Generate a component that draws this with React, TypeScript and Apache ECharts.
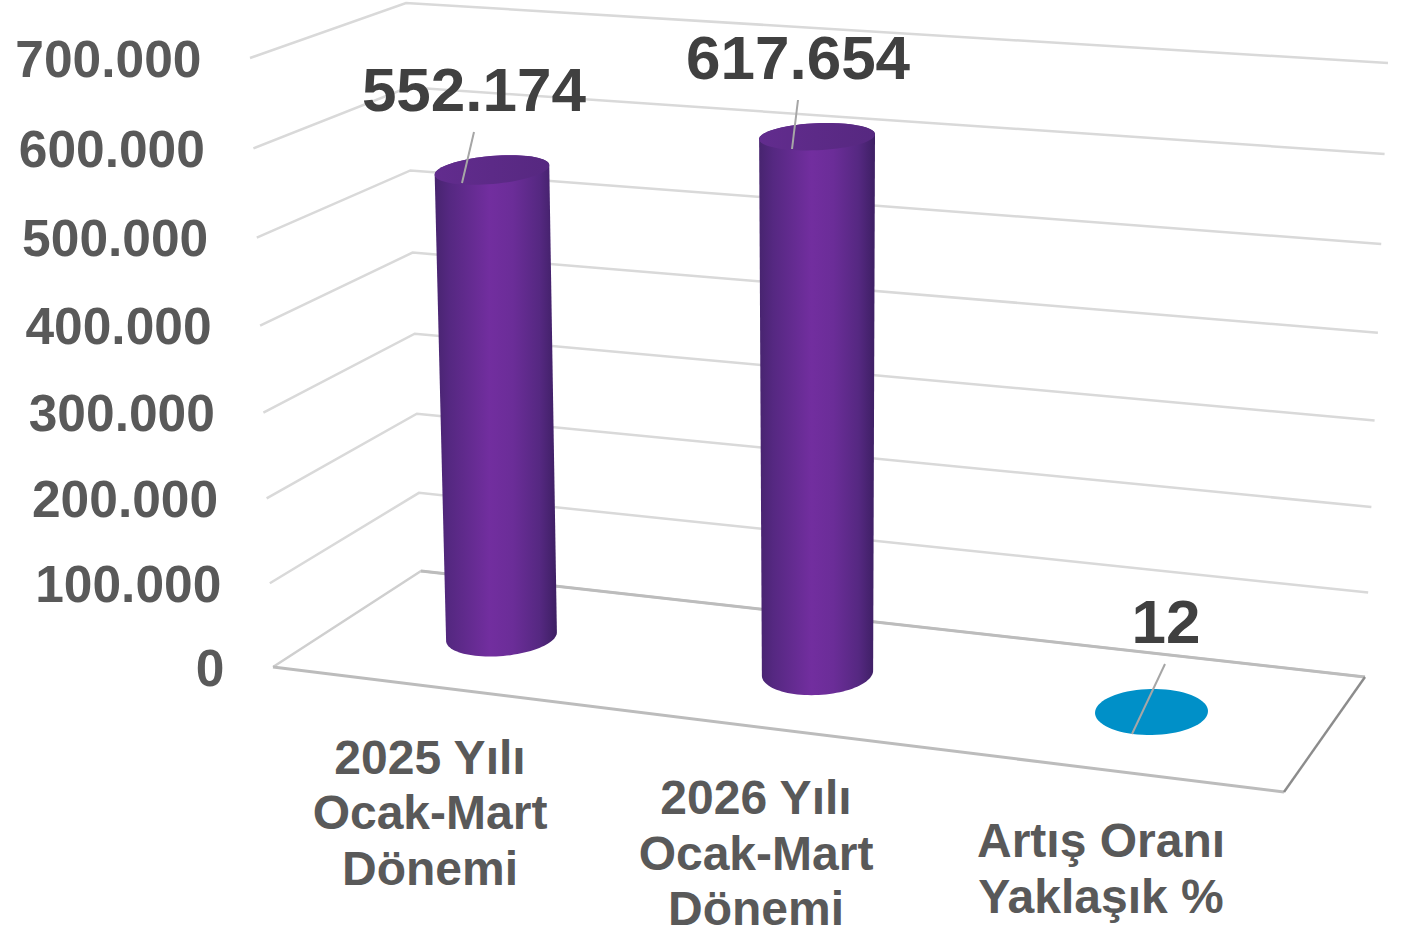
import React, { useEffect, useRef } from "react";
import * as echarts from "echarts";

// ---- chart data ----
const categories = ["2025 Yılı\nOcak-Mart\nDönemi", "2026 Yılı\nOcak-Mart\nDönemi", "Artış Oranı\nYaklaşık %"];
const values = [552174, 617654, 12];
const valueLabels = ["552.174", "617.654", "12"];
const tickValues = [0, 100000, 200000, 300000, 400000, 500000, 600000, 700000];
const tickLabels = ["0", "100.000", "200.000", "300.000", "400.000", "500.000", "600.000", "700.000"];
const AXIS_MAX = 700000;

// ---- layout of the 3D box (screen pixels) ----
type P = [number, number];
const FLOOR_FL: P = [273, 667];
const FLOOR_BL: P = [421, 571];
const FLOOR_BR: P = [1365, 677];
const FLOOR_FR: P = [1284, 792];
const TOP_FL: P = [250, 58];
const TOP_BL: P = [406, 3];
const TOP_BR: P = [1388, 63];
const PERSPECTIVE = 0.045;

const lerp = (a: P, b: P, s: number): P => [a[0] + (b[0] - a[0]) * s, a[1] + (b[1] - a[1]) * s];
const rise = (h: number) => h / (1 + PERSPECTIVE * (1 - h));

// bar ellipses: centre of base, rise over the full axis, radii and tilt at base / axis top
const barBase: P[] = [[501.5, 636.5], [817.5, 673], [1151.5, 712]];
const barFullRise: P[] = [[-12.2, -597], [-0.5, -611], [13, -635]];
const barBaseShape = [[55.6, 19.5, -5], [55.7, 22, -3], [56.5, 23, -1]];
const barTopShape = [[57.5, 14, -5], [58, 13.5, -2.5], [57, 13, -1]];
const barTopAtH = [0.7814, 0.8777, 1];
const barColors = ["#7030A0", "#7030A0", "#0090C8"];
const labelOffset: P[] = [[-18, -81], [-19, -79], [14.5, -90]];
const leaderFrom: P[] = [[474, 132], [798, 100], [1165, 664]];
const leaderTo: P[] = [[462, 183], [792, 149], [1132, 734]];
const categoryAnchor: P[] = [[430, 812.5], [756, 853], [1101, 868.5]];

const FONT = '"Liberation Sans", Arial, sans-serif';
const GRID_COLOR = "#d9d9d9";

function ellipse(c: P, rx: number, ry: number, tiltDeg: number, from: number, to: number, n: number): P[] {
  const t = (tiltDeg * Math.PI) / 180;
  const pts: P[] = [];
  for (let i = 0; i <= n; i++) {
    const a = from + ((to - from) * i) / n;
    const ex = rx * Math.cos(a);
    const ey = ry * Math.sin(a);
    pts.push([c[0] + ex * Math.cos(t) - ey * Math.sin(t), c[1] + ex * Math.sin(t) + ey * Math.cos(t)]);
  }
  return pts;
}

function heightOf(api: any, v: number) {
  const y0 = api.coord([0, 0])[1];
  const y1 = api.coord([0, AXIS_MAX])[1];
  const yv = api.coord([0, v])[1];
  return (y0 - yv) / (y0 - y1);
}

function renderGrid(params: any, api: any) {
  const i = params.dataIndex;
  const s = rise(heightOf(api, api.value(1)));
  const fl = lerp(FLOOR_FL, TOP_FL, s);
  const bl = lerp(FLOOR_BL, TOP_BL, s);
  const br = lerp(FLOOR_BR, TOP_BR, s);
  const children: any[] = [
    {
      type: "polyline",
      shape: { points: [fl, bl, br] },
      style: { fill: "none", stroke: i === 0 ? "#cfcfcf" : GRID_COLOR, lineWidth: 2.5 },
    },
    {
      type: "text",
      style: {
        text: tickLabels[i],
        x: fl[0] - 48.5,
        y: fl[1] + 0.5,
        align: "right",
        verticalAlign: "middle",
        fill: "#595959",
        font: `bold 51.5px ${FONT}`,
      },
    },
  ];
  if (i === 0) {
    children.push(
      { type: "line", shape: { x1: FLOOR_FL[0], y1: FLOOR_FL[1], x2: FLOOR_FR[0], y2: FLOOR_FR[1] }, style: { stroke: "#bcbcbc", lineWidth: 3 } },
      { type: "line", shape: { x1: FLOOR_BL[0], y1: FLOOR_BL[1], x2: FLOOR_BR[0], y2: FLOOR_BR[1] }, style: { stroke: "#bcbcbc", lineWidth: 3 } },
      { type: "line", shape: { x1: FLOOR_FR[0], y1: FLOOR_FR[1], x2: FLOOR_BR[0], y2: FLOOR_BR[1] }, style: { stroke: "#8c8c8c", lineWidth: 2.4 } }
    );
  }
  return { type: "group", children };
}

function renderBar(params: any, api: any) {
  const i = params.dataIndex;
  const s = rise(heightOf(api, api.value(1)));
  const base = barBase[i];
  const top: P = [base[0] + barFullRise[i][0] * s, base[1] + barFullRise[i][1] * s];
  const k = Math.min(1, s / barTopAtH[i]);
  const bs = barBaseShape[i];
  const ts = barTopShape[i];
  const rx = bs[0] + (ts[0] - bs[0]) * k;
  const ry = bs[1] + (ts[1] - bs[1]) * k;
  const tilt = bs[2] + (ts[2] - bs[2]) * k;
  const children: any[] = [];
  if (s > 0.01) {
    const lower = ellipse(base, bs[0], bs[1], bs[2], 0, Math.PI, 48);
    const upper = ellipse(top, rx, ry, tilt, Math.PI, 2 * Math.PI, 48);
    children.push({
      type: "polygon",
      shape: { points: [...lower, ...upper] },
      style: {
        fill: new echarts.graphic.LinearGradient(0, 0, 1, 0, [
          { offset: 0, color: "#47246f" },
          { offset: 0.12, color: "#552881" },
          { offset: 0.45, color: "#722e9f" },
          { offset: 0.64, color: "#6b2d98" },
          { offset: 0.86, color: "#552881" },
          { offset: 1, color: "#3d1f63" },
        ]),
      },
    });
    children.push({
      type: "polygon",
      shape: { points: ellipse(top, rx, ry, tilt, 0, 2 * Math.PI, 72) },
      style: {
        fill: new echarts.graphic.LinearGradient(0, 0, 1, 0, [
          { offset: 0, color: "#622c8e" },
          { offset: 1, color: "#562880" },
        ]),
      },
    });
  } else {
    children.push({
      type: "polygon",
      shape: { points: ellipse(base, bs[0], bs[1], bs[2], 0, 2 * Math.PI, 72) },
      style: { fill: barColors[i] },
    });
  }
  children.push(
    {
      type: "line",
      shape: { x1: leaderFrom[i][0], y1: leaderFrom[i][1], x2: leaderTo[i][0], y2: leaderTo[i][1] },
      style: { stroke: "#a6a6a6", lineWidth: 2 },
    },
    {
      type: "text",
      style: {
        text: valueLabels[i],
        x: top[0] + labelOffset[i][0],
        y: top[1] + labelOffset[i][1],
        align: "center",
        verticalAlign: "middle",
        fill: "#404040",
        font: `bold 62px ${FONT}`,
      },
    },
    {
      type: "text",
      style: {
        text: categories[i],
        x: categoryAnchor[i][0],
        y: categoryAnchor[i][1],
        align: "center",
        verticalAlign: "middle",
        lineHeight: 55.5,
        fill: "#595959",
        font: `bold 48px ${FONT}`,
      },
    }
  );
  return { type: "group", children };
}

export default function App() {
  const ref = useRef<HTMLDivElement>(null);
  useEffect(() => {
    document.body.style.margin = "0";
    const chart = echarts.init(ref.current!, null, { renderer: "svg" });
    chart.setOption({
      animation: false,
      backgroundColor: "#ffffff",
      grid: { left: 0, right: 0, top: 0, bottom: 0 },
      xAxis: { type: "category", data: categories, show: false },
      yAxis: { type: "value", min: 0, max: AXIS_MAX, interval: 100000, show: false },
      series: [
        {
          type: "custom",
          z: 1,
          clip: false,
          silent: true,
          renderItem: renderGrid,
          encode: { x: 0, y: 1 },
          data: tickValues.map((v) => [0, v]),
        },
        {
          type: "custom",
          z: 2,
          clip: false,
          silent: true,
          renderItem: renderBar,
          encode: { x: 0, y: 1 },
          data: values.map((v, i) => [i, v]),
        },
      ],
    });
    return () => chart.dispose();
  }, []);
  return <div ref={ref} style={{ position: "absolute", left: 0, top: 0, width: 1408, height: 931 }} />;
}
